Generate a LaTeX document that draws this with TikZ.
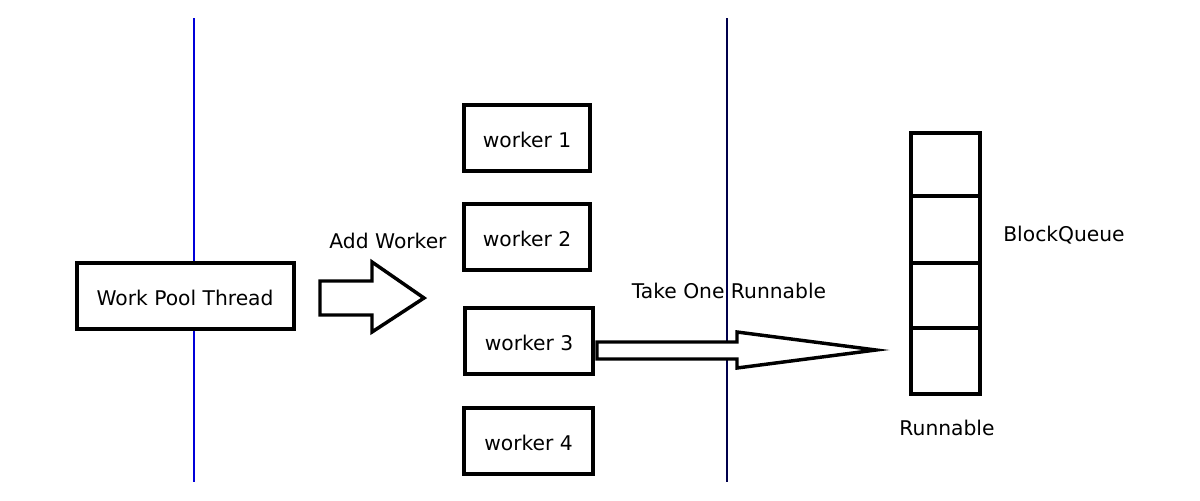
\documentclass[tikz,border=0pt]{standalone}
\usepackage{fontspec}
\setmainfont{DejaVu Sans}
\begin{document}
\begin{tikzpicture}[x=0.75pt,y=-0.75pt,
  box/.style={draw=black,line width=2.6pt,fill=white,inner sep=0pt},
  lbl/.style={font=\fontsize{15.2}{18}\selectfont,inner sep=0pt},
  arr/.style={draw=black,line width=2.6pt,line join=miter,fill=white}]
\useasboundingbox (0,0) rectangle (1200,500);
% vertical lines
\coordinate (b1) at (194,18); \coordinate (b2) at (194,482);
\coordinate (n1) at (727,18); \coordinate (n2) at (727,482);
\draw[blue!85!black,line width=0.8pt] (b1) -- (b2);
\draw[black!70!blue,line width=0.8pt] (n1) -- (n2);
% work pool thread
\node[box,minimum width=217*0.75pt,minimum height=66*0.75pt] (wpt) at (185.5,296) {};
\node[lbl] (wptl) at (185,298) {Work Pool Thread};
% add worker arrow
\draw[arr] (320,281) -- (372,281) -- (372,262) -- (424,298) -- (372,332) -- (372,315) -- (320,315) -- cycle;
\node[lbl] (aw) at (388,241) {Add Worker};
% workers
\node[box,minimum width=126*0.75pt,minimum height=66*0.75pt] (w1) at (527,138) {};
\node[lbl] at (527,140) {worker 1};
\node[box,minimum width=126*0.75pt,minimum height=66*0.75pt] (w2) at (527,237) {};
\node[lbl] at (527,239) {worker 2};
\node[box,minimum width=128*0.75pt,minimum height=66*0.75pt] (w3) at (529,341) {};
\node[lbl] at (529,343) {worker 3};
\node[box,minimum width=129*0.75pt,minimum height=66*0.75pt] (w4) at (528.5,441) {};
\node[lbl] at (528.5,443) {worker 4};
% take one runnable arrow
\draw[arr] (597,342) -- (737,342) -- (737,332) -- (876,350) -- (737,368) -- (737,359) -- (597,359) -- cycle;
\node[lbl] (tor) at (729,291) {Take One Runnable};
% queue
\node[box,minimum width=69*0.75pt,minimum height=63*0.75pt] (q1) at (945.5,164.5) {};
\node[box,minimum width=69*0.75pt,minimum height=67*0.75pt] (q2) at (945.5,229.5) {};
\node[box,minimum width=69*0.75pt,minimum height=65*0.75pt] (q3) at (945.5,295.5) {};
\node[box,minimum width=69*0.75pt,minimum height=66*0.75pt] (q4) at (945.5,361) {};
\node[lbl] (bq) at (1064,235) {BlockQueue};
\node[lbl] (rn) at (947,428) {Runnable};
\end{tikzpicture}
\end{document}
